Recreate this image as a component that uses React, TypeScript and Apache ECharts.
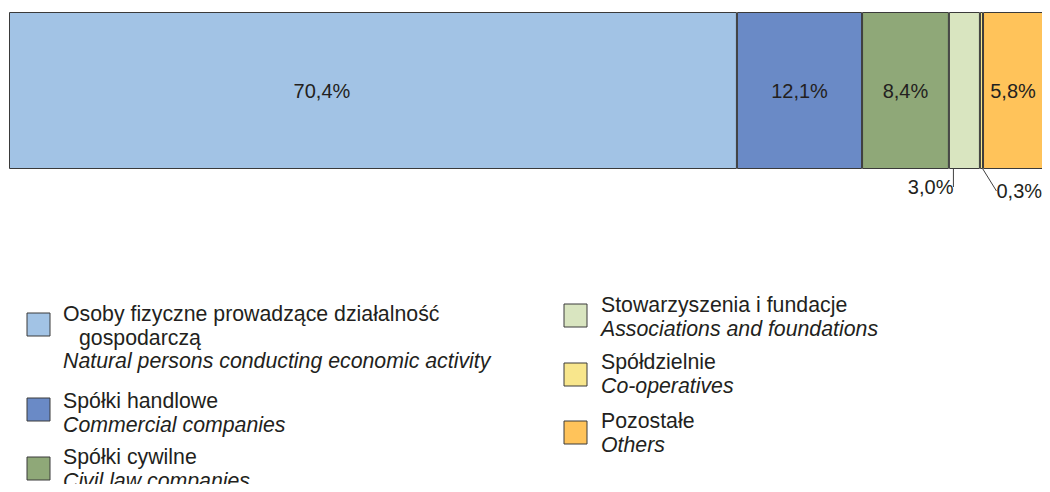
import React, { useEffect, useRef } from "react";
import * as echarts from "echarts";

const categoriesPl = [
  "Osoby fizyczne prowadzące działalność gospodarczą",
  "Spółki handlowe",
  "Spółki cywilne",
  "Stowarzyszenia i fundacje",
  "Spółdzielnie",
  "Pozostałe",
];
const categoriesEn = [
  "Natural persons conducting economic activity",
  "Commercial companies",
  "Civil law companies",
  "Associations and foundations",
  "Co-operatives",
  "Others",
];
const shares = [70.4, 12.1, 8.4, 3.0, 0.3, 5.8];
const colors = ["#A2C3E5", "#6A8AC6", "#8FA878", "#D9E5C0", "#F8E68C", "#FFC35A"];

const TEXT = "#231F20";
const FAMILY = "Liberation Sans, Arial, sans-serif";

const fmt = (v: number) => v.toFixed(1).replace(".", ",") + "%";

export default function App() {
  const ref = useRef<HTMLDivElement>(null);
  useEffect(() => {
    if (!ref.current) return;
    const chart = echarts.init(ref.current, null, { renderer: "svg" });

    const series = shares.map((v, i) => {
      const outside = v < 4;
      const below = i === 3;
      return {
        name: categoriesPl[i],
        type: "bar",
        stack: "total",
        barWidth: "100%",
        data: [v],
        itemStyle: { color: colors[i], borderColor: "#3A3A3A", borderWidth: 1 },
        label: {
          show: true,
          position: outside ? "insideBottom" : "inside",
          offset: i === 0 ? [-51, 0] : [0, 0],
          formatter: (p: any) => fmt(p.value),
          color: TEXT,
          fontFamily: FAMILY,
          fontSize: 20,
        },
        labelLine: outside
          ? { show: true, lineStyle: { color: "#404040", width: 1 } }
          : { show: false },
        labelLayout: outside
          ? (params: any) => {
              const r = params.rect;
              const cx = r.x + r.width / 2;
              const bottom = r.y + r.height;
              if (below) {
                return {
                  x: cx - 11,
                  y: bottom + 18,
                  align: "right",
                  verticalAlign: "middle",
                  labelLinePoints: [
                    [cx, bottom],
                    [cx - 1, bottom + 15],
                    [cx - 10, bottom + 16],
                  ],
                };
              }
              return {
                x: cx + 15,
                y: bottom + 22,
                align: "left",
                verticalAlign: "middle",
                labelLinePoints: [
                  [cx, bottom],
                  [cx + 1, bottom + 11],
                  [cx + 11, bottom + 22],
                ],
              };
            }
          : undefined,
      };
    });

    // Legend drawn as graphic elements, built from the arrays
    const pos = [
      { sx: 27, sy: 313, tx: 63, ty: 314 },
      { sx: 27, sy: 398, tx: 63, ty: 401 },
      { sx: 27, sy: 457, tx: 63, ty: 457 },
      { sx: 564, sy: 304, tx: 601, ty: 305 },
      { sx: 564, sy: 363, tx: 601, ty: 362 },
      { sx: 564, sy: 421, tx: 601, ty: 421 },
    ];
    const LH = 23.5;
    const txt = (x: number, y: number, text: string, italic: boolean) => ({
      type: "text",
      style: {
        x,
        y,
        text,
        fill: TEXT,
        fontFamily: FAMILY,
        fontSize: 21.3,
        fontStyle: italic ? "italic" : "normal",
        verticalAlign: "middle",
      },
    });
    const graphics: any[] = [];
    categoriesPl.forEach((name, i) => {
      const p = pos[i];
      graphics.push({
        type: "rect",
        shape: { x: p.sx, y: p.sy, width: 23, height: 23 },
        style: { fill: colors[i], stroke: "#3A3A3A", lineWidth: 1 },
      });
      let y = p.ty;
      if (i === 0) {
        const words = name.split(" ");
        graphics.push(txt(p.tx, y, words.slice(0, 4).join(" "), false));
        y += LH;
        graphics.push(txt(p.tx + 16, y, words.slice(4).join(" "), false));
      } else {
        graphics.push(txt(p.tx, y, name, false));
      }
      y += LH;
      graphics.push(txt(p.tx, y, categoriesEn[i], true));
    });

    chart.setOption({
      animation: false,
      grid: { left: 9, right: 7, top: 12, height: 157 },
      xAxis: { type: "value", min: 0, max: 100, show: false },
      yAxis: { type: "category", data: [""], show: false },
      series,
      graphic: graphics,
    });
    return () => chart.dispose();
  }, []);
  return <div ref={ref} style={{ width: 1050, height: 492, margin: -8 }} />;
}
